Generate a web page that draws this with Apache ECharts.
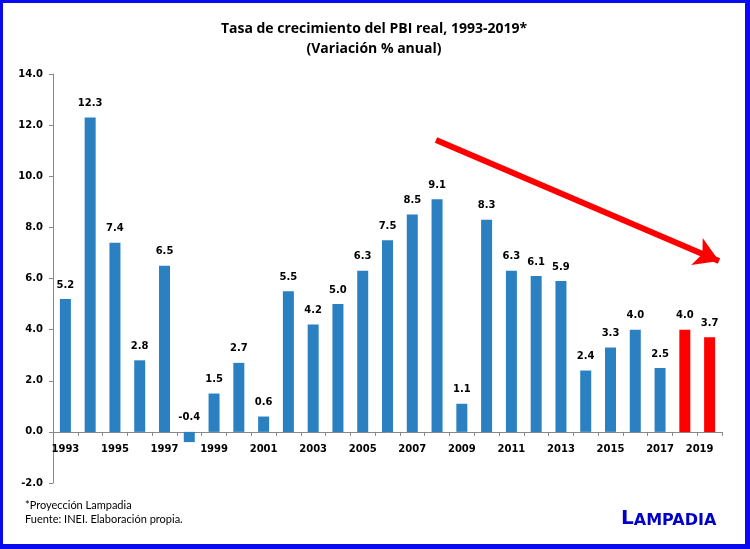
<!DOCTYPE html>
<html><head><meta charset="utf-8">
<script src="https://cdn.jsdelivr.net/npm/echarts@6/dist/echarts.min.js"></script>
<style>
html,body{margin:0;padding:0;background:#fff;}
#c{width:750px;height:549px;box-sizing:border-box;border-style:solid;border-color:#0a0af0;border-width:3px 5px 5px 3px;}
</style></head>
<body><div id="c"></div>
<script>
const years = ['1993','1994','1995','1996','1997','1998','1999','2000','2001','2002','2003','2004','2005','2006','2007','2008','2009','2010','2011','2012','2013','2014','2015','2016','2017','2018','2019'];
const growth = [5.2,12.3,7.4,2.8,6.5,-0.4,1.5,2.7,0.6,5.5,4.2,5.0,6.3,7.5,8.5,9.1,1.1,8.3,6.3,6.1,5.9,2.4,3.3,4.0,2.5,4.0,3.7];
const projectedYears = ['2018','2019'];
const yTicks = [-2,0,2,4,6,8,10,12,14];

const chart = echarts.init(document.getElementById('c'));
const BLUE = '#2B80C2', RED = '#FF0000';
chart.setOption({
  animation:false,
  title:{
    text:'Tasa de crecimiento del PBI real, 1993-2019*\n(Variación % anual)',
    left:'center', top:11,
    textStyle:{fontFamily:'Open Sans',fontWeight:'bold',fontSize:14,lineHeight:20,color:'#000'}
  },
  grid:{left:50,right:23,top:71,bottom:61},
  xAxis:{
    type:'category', data:years,
    axisLine:{onZero:true,lineStyle:{color:'#888'}},
    axisTick:{show:true,alignWithLabel:false,interval:0,length:4,lineStyle:{color:'#888'}},
    axisLabel:{interval:1,margin:-39,fontFamily:'DejaVu Sans',fontWeight:'bold',fontSize:10,color:'#000',
      formatter:v=> v===years[years.length-1] ? '{s|'+v+'}' : v,
      rich:{s:{fontFamily:'DejaVu Sans',fontWeight:'bold',fontSize:10,color:'#000',padding:[0,20,0,0]}}}
  },
  yAxis:{
    type:'value', min:yTicks[0], max:yTicks[yTicks.length-1], interval:2,
    splitLine:{show:false},
    axisLine:{show:true,lineStyle:{color:'#888'}},
    axisTick:{show:true,length:4,lineStyle:{color:'#888'}},
    axisLabel:{margin:10,fontFamily:'DejaVu Sans',fontWeight:'bold',fontSize:10,color:'#000',formatter:v=>v.toFixed(1)}
  },
  series:[{
    type:'bar', barWidth:11,
    data:growth.map((v,i)=>({value:v,itemStyle:{color:projectedYears.includes(years[i])?RED:BLUE}})),
    label:{show:true,position:'top',distance:9,fontFamily:'DejaVu Sans',fontWeight:'bold',fontSize:10,color:'#000',formatter:p=>p.value.toFixed(1)},
    markLine:{
      silent:true, animation:false,
      symbol:['none','arrow'], symbolSize:[22,24],
      label:{show:false},
      lineStyle:{color:RED,width:6,type:'solid'},
      data:[[{x:433,y:137},{x:716,y:258}]]
    }
  }],
  graphic:[
    {type:'text',left:22,top:495,style:{text:'*Proyección Lampadia\nFuente: INEI. Elaboración propia.',fontFamily:'Lato',fontSize:11,lineHeight:14,fill:'#000'}},
    {type:'text',left:618,top:506,style:{
      text:'{a|L}{b|AMPADIA}',
      rich:{
        a:{fontFamily:'DejaVu Sans',fontWeight:'bold',fontSize:20,fill:'#0000C8',verticalAlign:'bottom'},
        b:{fontFamily:'DejaVu Sans',fontWeight:'bold',fontSize:16,fill:'#0000C8',verticalAlign:'bottom'}
      }
    }}
  ]
});
</script></body></html>
